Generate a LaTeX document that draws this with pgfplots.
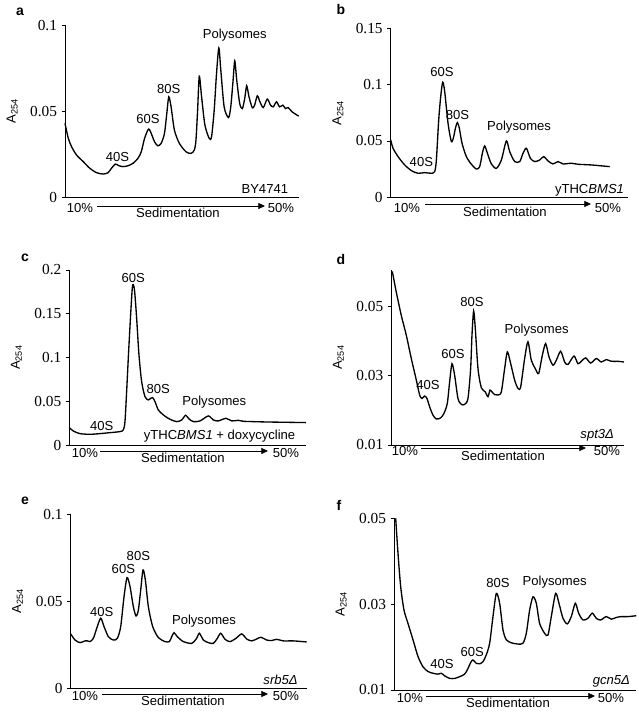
\documentclass[border=0pt]{standalone}
\usepackage{pgfplots}
\pgfplotsset{compat=1.18}
\usepackage{fontspec}
\setmainfont{Liberation Sans}
\newfontfamily\seriffont{Liberation Serif}
\usetikzlibrary{arrows.meta}
\newcommand{\lab}{\fontsize{9.8}{11}\selectfont}
\newcommand{\tickf}{\fontsize{11.5}{12}\seriffont}
\pgfplotsset{panel/.style={scale only axis, anchor=south west,
  axis x line*=bottom, axis y line*=left, xtick=\empty,
  tick align=outside, major tick length=2.5pt,
  axis line style={line width=0.6pt}, ytick style={line width=0.6pt, black},
  yticklabel style={font=\tickf}, /pgf/number format/assume math mode=true,
  scaled y ticks=false, clip=false,
  ylabel={A\textsubscript{254}}, ylabel style={font=\lab}, ylabel shift=2.5pt},
  curve/.style={black, line width=1pt, smooth, tension=0.45, mark=none}}
\begin{document}
\begin{tikzpicture}[x=0.75pt,y=0.75pt]
\path[use as bounding box] (0,0) rectangle (638,712);
\coordinate (pa) at (65,514.7);
\coordinate (pb) at (390.7,514.7);
\coordinate (pc) at (69.3,267);
\coordinate (pd) at (391.3,267);
\coordinate (pe) at (70.7,23.7);
\coordinate (pf) at (394,22);
% ---------- a ----------
\begin{axis}[panel, at={(pa)}, width=175.3pt, height=129.2pt,
  xmin=195, xmax=900, ymin=0, ymax=0.1, ytick={0,0.05,0.1}, yticklabels={0,0.05,0.1}]
\addplot[curve] coordinates {(195,0.0429)(205,0.0342)(215,0.0293)(230,0.0245)(250,0.0207)(270,0.0168)(290,0.0143)(310,0.0135)(325,0.0143)(335,0.0168)(347,0.0193)(358,0.0183)(370,0.0178)(385,0.0183)(400,0.0197)(415,0.0226)(425,0.0264)(435,0.0342)(447,0.0396)(455,0.0371)(465,0.0322)(475,0.0299)(485,0.0313)(495,0.0371)(502,0.0486)(508,0.0583)(515,0.0525)(525,0.0390)(540,0.0313)(560,0.0264)(575,0.0255)(585,0.0274)(590,0.0332)(595,0.0506)(600,0.0703)(607,0.0583)(617,0.0419)(630,0.0342)(637,0.0351)(645,0.0506)(652,0.0718)(659,0.0867)(665,0.0737)(675,0.0525)(688,0.0463)(695,0.0525)(702,0.0680)(707,0.0792)(713,0.0680)(722,0.0544)(730,0.0515)(737,0.0573)(743,0.0647)(750,0.0583)(760,0.0519)(767,0.0535)(775,0.0589)(783,0.0554)(793,0.0521)(805,0.0570)(815,0.0535)(823,0.0525)(833,0.0554)(842,0.0525)(852,0.0535)(860,0.0515)(868,0.0521)(880,0.0496)(900,0.0471)};
\node[font=\lab] at (axis cs:353,0.0236) {40S};
\node[font=\lab] at (axis cs:445,0.0452) {60S};
\node[font=\lab] at (axis cs:508,0.0631) {80S};
\node[font=\lab] at (axis cs:707,0.0944) {Polysomes};
\node[font=\lab, anchor=east] at (axis cs:882,0.0046) {BY4741};
\end{axis}
% ---------- b ----------
\begin{axis}[panel, at={(pb)}, width=178pt, height=126.75pt,
  xmin=218, xmax=930, ymin=0, ymax=0.15, ytick={0,0.05,0.1,0.15}, yticklabels={0,0.05,0.1,0.15}]
\addplot[curve] coordinates {(218,0.0509)(225,0.0435)(240,0.0361)(260,0.0287)(280,0.0237)(300,0.0213)(320,0.0219)(340,0.0213)(350,0.0228)(355,0.0331)(362,0.0686)(368,0.0893)(374,0.1021)(380,0.0938)(390,0.0657)(400,0.0494)(407,0.0538)(412,0.0612)(418,0.0663)(424,0.0612)(432,0.0479)(445,0.0361)(460,0.0293)(475,0.0251)(485,0.0272)(493,0.0391)(500,0.0456)(508,0.0391)(520,0.0296)(535,0.0257)(550,0.0331)(565,0.0500)(575,0.0405)(590,0.0317)(605,0.0317)(615,0.0391)(625,0.0435)(637,0.0346)(650,0.0317)(665,0.0331)(677,0.0361)(690,0.0322)(705,0.0296)(720,0.0317)(735,0.0296)(760,0.0302)(780,0.0293)(820,0.0287)(875,0.0272)};
\node[font=\lab] at (axis cs:310,0.0311) {40S};
\node[font=\lab] at (axis cs:372,0.1112) {60S};
\node[font=\lab] at (axis cs:418,0.0731) {80S};
\node[font=\lab] at (axis cs:603,0.0621) {Polysomes};
\node[font=\lab, anchor=east] at (axis cs:932,0.0065) {yTHC\textit{BMS1}};
\end{axis}
% ---------- c ----------
\begin{axis}[panel, at={(pc)}, width=177.5pt, height=131.25pt,
  xmin=208, xmax=918, ymin=0, ymax=0.2, ytick={0,0.05,0.1,0.15,0.2}, yticklabels={0,0.05,0.1,0.15,0.2}]
\addplot[curve] coordinates {(208,0.0198)(220,0.016)(240,0.013)(270,0.0122)(300,0.013)(330,0.0141)(360,0.0153)(370,0.0172)(375,0.0267)(380,0.0611)(386,0.1069)(392,0.1489)(397,0.1794)(400,0.1832)(404,0.1756)(410,0.1450)(417,0.1031)(425,0.0725)(435,0.0553)(445,0.0515)(452,0.0534)(458,0.0542)(465,0.0496)(475,0.0401)(490,0.0344)(510,0.0294)(530,0.0267)(545,0.0286)(557,0.0340)(567,0.0298)(580,0.0267)(600,0.0275)(625,0.0332)(640,0.0286)(655,0.0275)(678,0.0305)(695,0.0275)(715,0.0282)(730,0.0271)(760,0.0267)(800,0.0263)(850,0.0260)(918,0.0256)};
\node[font=\lab] at (axis cs:305,0.0221) {40S};
\node[font=\lab] at (axis cs:400,0.1908) {60S};
\node[font=\lab] at (axis cs:475,0.0641) {80S};
\node[font=\lab] at (axis cs:643,0.0485) {Polysomes};
\node[font=\lab, anchor=east] at (axis cs:900,0.0103) {yTHC\textit{BMS1} + doxycycline};
\end{axis}
% ---------- d ----------
\begin{axis}[panel, at={(pd)}, width=174.5pt, height=131.25pt,
  xmin=220, xmax=918, ymin=0.01, ymax=0.0604, ytick={0.01,0.03,0.05}, yticklabels={0.01,0.03,0.05}]
\addplot[curve] coordinates {(223,0.0600)(235,0.0540)(250,0.0473)(265,0.0416)(280,0.0349)(295,0.0287)(305,0.0244)(312,0.0234)(320,0.0241)(327,0.0234)(335,0.0210)(345,0.0186)(355,0.0175)(368,0.0178)(378,0.0191)(388,0.0220)(395,0.0282)(402,0.0334)(410,0.0301)(420,0.0234)(430,0.0217)(440,0.0217)(450,0.0234)(458,0.0320)(462,0.0416)(467,0.0486)(472,0.0435)(480,0.0320)(490,0.0265)(502,0.0253)(510,0.0239)(516,0.0258)(522,0.0253)(530,0.0245)(540,0.0244)(550,0.0253)(560,0.0320)(568,0.0368)(577,0.0339)(590,0.0287)(600,0.0263)(608,0.0267)(620,0.0349)(630,0.0397)(640,0.0344)(652,0.0320)(662,0.0306)(673,0.0358)(683,0.0392)(693,0.0354)(705,0.0330)(715,0.0344)(728,0.0370)(740,0.0339)(750,0.0332)(768,0.0356)(780,0.0334)(790,0.0341)(803,0.0351)(818,0.0336)(835,0.0349)(850,0.0339)(865,0.0346)(880,0.0341)(900,0.0341)(918,0.0339)};
\node[font=\lab] at (axis cs:330,0.0272) {40S};
\node[font=\lab] at (axis cs:405,0.0361) {60S};
\node[font=\lab] at (axis cs:462,0.0513) {80S};
\node[font=\lab] at (axis cs:656,0.0432) {Polysomes};
\node[font=\lab, anchor=east] at (axis cs:902,0.0129) {\textit{spt3Δ}};
\end{axis}
% ---------- e ----------
\begin{axis}[panel, at={(pe)}, width=177pt, height=130.7pt,
  xmin=212, xmax=920, ymin=0, ymax=0.1, ytick={0,0.05,0.1}, yticklabels={0,0.05,0.1}]
\addplot[curve] coordinates {(212,0.0312)(225,0.0277)(240,0.0262)(255,0.0272)(262,0.0272)(270,0.0268)(280,0.0287)(290,0.0344)(302,0.0402)(312,0.0354)(325,0.0296)(340,0.0277)(352,0.0287)(362,0.0354)(372,0.0526)(381,0.0635)(390,0.0583)(400,0.0468)(408,0.0415)(415,0.0449)(422,0.0564)(429,0.0679)(436,0.0621)(445,0.0468)(458,0.0354)(475,0.0291)(495,0.0268)(508,0.0268)(515,0.0296)(522,0.0319)(532,0.0296)(550,0.0268)(575,0.0258)(590,0.0287)(598,0.0316)(610,0.0277)(625,0.0262)(640,0.0258)(652,0.0287)(662,0.0316)(675,0.0281)(690,0.0268)(708,0.0287)(725,0.0312)(740,0.0283)(755,0.0272)(770,0.0283)(783,0.0293)(800,0.0277)(815,0.0274)(830,0.0281)(850,0.0272)(880,0.0272)(920,0.0266)};
\node[font=\lab] at (axis cs:305,0.0440) {40S};
\node[font=\lab] at (axis cs:370,0.0684) {60S};
\node[font=\lab] at (axis cs:415,0.0759) {80S};
\node[font=\lab] at (axis cs:612,0.0388) {Polysomes};
\node[font=\lab, anchor=east] at (axis cs:907,0.0048) {\textit{srb5Δ}};
\end{axis}
% ---------- f ----------
\begin{axis}[panel, at={(pf)}, width=181.7pt, height=128.8pt,
  xmin=228, xmax=955, ymin=0.01, ymax=0.05, ytick={0.01,0.03,0.05}, yticklabels={0.01,0.03,0.05}]
\addplot[curve] coordinates {(233,0.0500)(240,0.0418)(248,0.0341)(258,0.0286)(270,0.0255)(285,0.0217)(300,0.0178)(315,0.0154)(330,0.0143)(345,0.0139)(360,0.0137)(370,0.0139)(380,0.0133)(395,0.0127)(410,0.0127)(425,0.0131)(440,0.0137)(450,0.0150)(458,0.0164)(465,0.0170)(475,0.0162)(485,0.0161)(495,0.0166)(505,0.0182)(515,0.0209)(525,0.0271)(535,0.0325)(545,0.0302)(555,0.0240)(565,0.0217)(580,0.0210)(600,0.0207)(615,0.0209)(625,0.0232)(635,0.0286)(645,0.0317)(655,0.0302)(665,0.0255)(680,0.0232)(690,0.0228)(700,0.0271)(713,0.0325)(723,0.0302)(735,0.0267)(748,0.0254)(760,0.0271)(772,0.0302)(782,0.0279)(795,0.0263)(810,0.0267)(823,0.0279)(835,0.0267)(848,0.0263)(865,0.0271)(880,0.0265)(895,0.0269)(910,0.0271)(930,0.0271)(955,0.0273)};
\node[font=\lab] at (axis cs:372,0.0161) {40S};
\node[font=\lab] at (axis cs:463,0.0189) {60S};
\node[font=\lab] at (axis cs:540,0.0350) {80S};
\node[font=\lab] at (axis cs:710,0.0351) {Polysomes};
\node[font=\lab, anchor=east] at (axis cs:950,0.0119) {\textit{gcn5Δ}};
\end{axis}
% ---------- panel letters and sedimentation arrows ----------
\begin{scope}[every node/.style={font=\lab}]
\foreach \lx/\ly/\t in {20/12/a, 341/10/b, 25/258/c, 341/260/d, 25/501/e, 339/505/f}
  \node[font=\fontsize{10.5}{12}\selectfont\bfseries] at (\lx,712-\ly) {\t};
\foreach \tx/\ax/\bx/\fx/\ay/\ty/\sx/\sy in {80/97/265/281/206/208/178/213, 407/425/591/608/204/208/505/212, 85/100/268/286/451/453/183/458, 405/421/586/607/448/451/503/456, 85/102/268/286/694/696/183/701, 410/426/595/611/696/698/508/703}{
  \node at (\tx,712-\ty) {10\%};
  \node at (\fx,712-\ty) {50\%};
  \node at (\sx,712-\sy) {Sedimentation};
  \draw[line width=0.5pt, -{Triangle[length=5pt,width=4.5pt]}] (\ax,712-\ay) -- (\bx,712-\ay);
}
\end{scope}
\end{tikzpicture}
\end{document}
